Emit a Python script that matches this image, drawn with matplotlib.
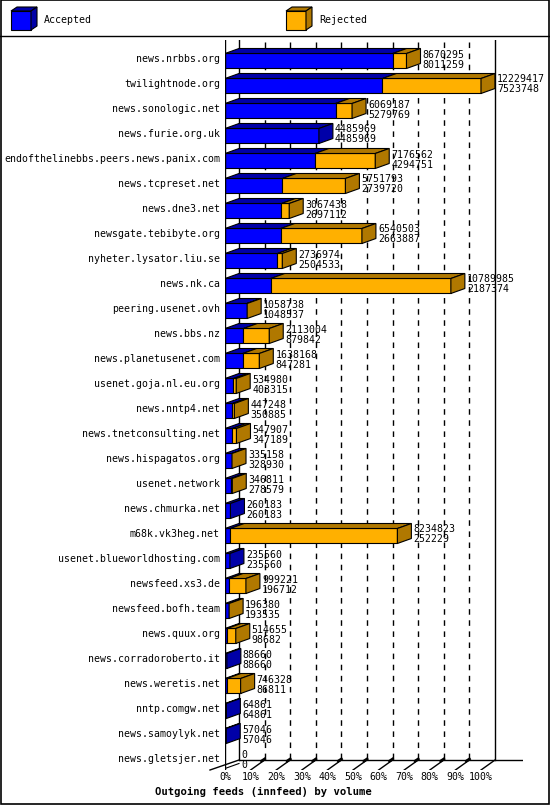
import matplotlib
matplotlib.use("Agg")
import matplotlib.pyplot as plt
from matplotlib.patches import Polygon, Rectangle

hosts = ["news.nrbbs.org","twilightnode.org","news.sonologic.net","news.furie.org.uk",
 "endofthelinebbs.peers.news.panix.com","news.tcpreset.net","news.dne3.net","newsgate.tebibyte.org",
 "nyheter.lysator.liu.se","news.nk.ca","peering.usenet.ovh","news.bbs.nz","news.planetusenet.com",
 "usenet.goja.nl.eu.org","news.nntp4.net","news.tnetconsulting.net","news.hispagatos.org",
 "usenet.network","news.chmurka.net","m68k.vk3heg.net","usenet.blueworldhosting.com",
 "newsfeed.xs3.de","newsfeed.bofh.team","news.quux.org","news.corradoroberto.it",
 "news.weretis.net","nntp.comgw.net","news.samoylyk.net","news.gletsjer.net"]
offered = [8670295,12229417,6069187,4485969,7176562,5751793,3067438,6540503,2736974,10789985,
 1058738,2113004,1638168,534980,447248,547907,335158,346811,260183,8234823,235560,999221,
 196380,514655,88660,746328,64861,57046,0]
accepted = [8011259,7523748,5279769,4485969,4294751,2739720,2697112,2663887,2504533,2187374,
 1048537,879842,847281,403315,350885,347189,328930,278579,260183,252229,235560,196712,
 193535,98682,88660,86811,64861,57046,0]
ticks = [f"{k*10}%" for k in range(11)]

W, H = 550, 805
fig = plt.figure(figsize=(W/100, H/100), dpi=100)
fig.patch.set_facecolor("white")
mono = "DejaVu Sans Mono"
FS = 7.1

bg = fig.add_axes([0, 0, 1, 1]); bg.set_xlim(0, W); bg.set_ylim(H, 0); bg.axis("off")
bg.add_patch(Rectangle((0.5, 0.5), W-1.5, H-1.5, fill=False, lw=1.2, ec="black"))
bg.plot([0, W], [36, 36], color="black", lw=1)
def cube(ax, x, y, w, h, dx, dy, front, dark):
    ax.add_patch(Polygon([(x, y), (x+w, y), (x+w, y+h), (x, y+h)], closed=True, fc=front, ec="black", lw=0.8))
    ax.add_patch(Polygon([(x, y), (x+dx, y+dy), (x+w+dx, y+dy), (x+w, y)], closed=True, fc=dark, ec="black", lw=0.8))
    ax.add_patch(Polygon([(x+w, y), (x+w+dx, y+dy), (x+w+dx, y+h+dy), (x+w, y+h)], closed=True, fc=dark, ec="black", lw=0.8))
BLUE, DBLUE, ORA, DORA = "#0000ff", "#0000a8", "#ffb000", "#b07800"
cube(bg, 11, 11, 20, 19, 6, -4, BLUE, DBLUE)
bg.text(44, 20, "Accepted", fontsize=FS, family=mono, va="center")
cube(bg, 286, 11, 20, 19, 6, -4, ORA, DORA)
bg.text(319, 20, "Rejected", fontsize=FS, family=mono, va="center")

L, R, T, B = 225, 523, 40, 770
ax = fig.add_axes([L/W, 1-B/H, (R-L)/W, (B-T)/H])
ax.axis("off")
sx = 256.0
rs = 25.0
x1 = (R-L)/sx
y0 = -(59-T)/rs
y1 = (B-59)/rs
ax.set_xlim(0, x1); ax.set_ylim(y1, y0)
dx, dy = 14/sx, -5/rs
hh = 7.5/rs
floor = y1 - 10/rs
top = y0 + 2/rs
ax.plot([0, 0], [y0, y1], color="black", lw=1)
ax.plot([dx, dx], [y0, floor], color="black", lw=1, zorder=0.5)
ax.plot([1+dx, 1+dx], [y0, floor], color="black", lw=1)
ax.plot([dx, x1], [floor, floor], color="black", lw=1)
ax.plot([-15/sx, dx], [y1, floor], color="black", lw=1, clip_on=False)
ax.plot([1, 1+dx], [y1, floor], color="black", lw=1)
for k in range(1, 10):
    xk = k/10
    ax.plot([xk+dx, xk+dx], [top, floor], color="black", lw=1, ls=(0, (4, 4)), zorder=0.5)
    ax.plot([xk, xk+dx], [y1, floor], color="black", lw=1)
    ax.plot([xk+dx-3/sx, xk+dx], [floor+1/rs, floor-1/rs], color="black", lw=2)

mx = max(offered)
for i, (h, o, a) in enumerate(zip(hosts, offered, accepted)):
    fo, fa = o/mx, a/mx
    yt = i - hh + 2/rs
    if o > 0:
        if fa > 0:
            ax.add_patch(Rectangle((0, yt), fa, 2*hh, fc=BLUE, ec="black", lw=0.8))
        if fo > fa:
            ax.add_patch(Rectangle((fa, yt), fo-fa, 2*hh, fc=ORA, ec="black", lw=0.8))
        if fa > 0:
            ax.add_patch(Polygon([(0, yt), (dx, yt+dy), (fa+dx, yt+dy), (fa, yt)], fc=DBLUE, ec="black", lw=0.8))
        if fo > fa:
            ax.add_patch(Polygon([(fa, yt), (fa+dx, yt+dy), (fo+dx, yt+dy), (fo, yt)], fc=DORA, ec="black", lw=0.8))
        side = DORA if fo > fa else DBLUE
        ax.add_patch(Polygon([(fo, yt), (fo+dx, yt+dy), (fo+dx, yt+2*hh+dy), (fo, yt+2*hh)], fc=side, ec="black", lw=0.8))
    else:
        ax.plot([0, dx], [yt+2*hh, yt+2*hh+dy], color="black", lw=0.8)
    ax.text(fo+dx+2/sx, i+0.02, f"{o}", fontsize=FS, family=mono, va="bottom", ha="left")
    ax.text(fo+dx+2/sx, i+0.02, f"{a}", fontsize=FS, family=mono, va="top", ha="left")
    ax.text(-5/sx, i, h, fontsize=FS, family=mono, va="center", ha="right", clip_on=False)

for k, t in enumerate(ticks):
    ax.text(k/10, y1 + 7/rs, t, fontsize=FS, family=mono, ha="center", va="center", clip_on=False)
bg.text(155, 792, "Outgoing feeds (innfeed) by volume", fontsize=7.6, family=mono,
        weight="bold", va="center", ha="left")

fig.savefig("out.png", dpi=100)
